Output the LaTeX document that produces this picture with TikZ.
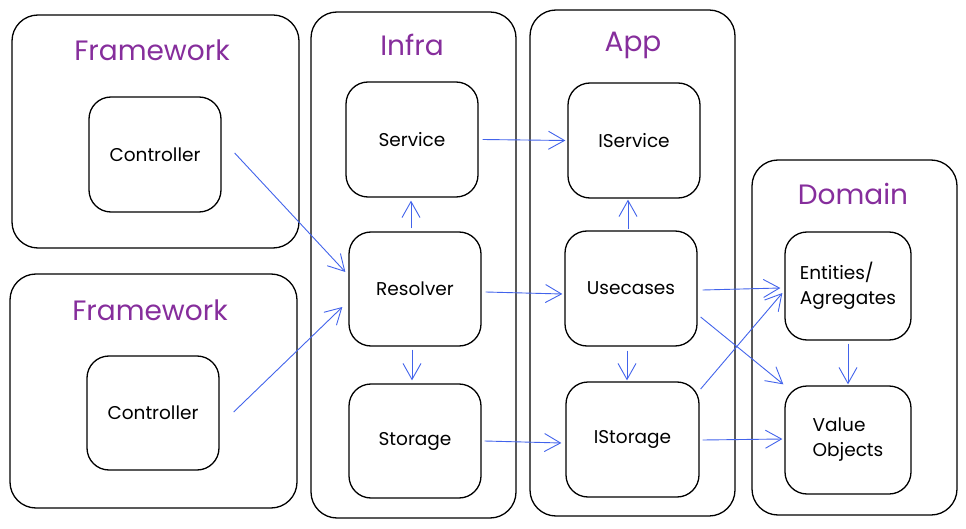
\documentclass[tikz,border=0pt]{standalone}
\usepackage{fontspec}
\setmainfont{Poppins}
\usetikzlibrary{arrows.meta}
\definecolor{titlepurple}{HTML}{862E9C}
\definecolor{arrowblue}{HTML}{4263EB}
\tikzset{
  frame/.style={draw=black, line width=1.3pt, rounded corners=26pt, inner sep=0pt},
  compbox/.style={draw=black, line width=1.3pt, rounded corners=22pt, inner sep=0pt, font=\fontsize{18.5}{25}\selectfont},
  title/.style={text=titlepurple, font=\fontsize{28}{32}\selectfont},
  arr/.style={draw=arrowblue, line width=0.9pt, -{Straight Barb[length=16pt,width=18pt,line width=0.9pt]}}
}
\begin{document}
\begin{tikzpicture}[x=1pt,y=-1pt]
\useasboundingbox (0,0) rectangle (966,529);
% frames
\node[frame, minimum width=287pt, minimum height=233pt] (fw1) at (155.5,131.5) {};
\node[frame, minimum width=287pt, minimum height=234pt] (fw2) at (153.5,391) {};
\node[frame, minimum width=205pt, minimum height=506pt] (infra) at (413.5,265) {};
\node[frame, minimum width=205pt, minimum height=506pt] (app) at (632.5,263) {};
\node[frame, minimum width=205pt, minimum height=355pt] (domain) at (854.5,337.5) {};
% titles
\node[title] (fw1t) at (152,50) {Framework};
\node[title] (fw2t) at (150,310) {Framework};
\node[title] (infrat) at (412,45) {Infra};
\node[title] (appt) at (633,45) {App};
\node[title] (domaint) at (853,194) {Domain};
% components
\node[compbox, minimum width=132pt, minimum height=115pt] (ctrl1) at (155,154.5) {Controller};
\node[compbox, minimum width=132pt, minimum height=114pt] (ctrl2) at (153,413) {Controller};
\node[compbox, minimum width=132pt, minimum height=115pt] (service) at (412,139.5) {Service};
\node[compbox, minimum width=132pt, minimum height=114pt] (res) at (415,289) {Resolver};
\node[compbox, minimum width=132pt, minimum height=114pt] (storage) at (415,441) {Storage};
\node[compbox, minimum width=132pt, minimum height=115pt] (iservice) at (634,140.5) {IService};
\node[compbox, minimum width=132pt, minimum height=115pt] (usecases) at (631,288.5) {Usecases};
\node[compbox, minimum width=133pt, minimum height=115pt] (istorage) at (632.5,439.5) {IStorage};
\node[compbox, minimum width=126pt, minimum height=108pt, align=left] (entities) at (848,286) {Entities/\\Agregates};
\node[compbox, minimum width=126pt, minimum height=108pt, align=left] (value) at (848,440) {Value\\Objects};
% arrows
\draw[arr] ([shift={(13,-1.5)}]ctrl1.east) -- ([shift={(-3,-17)}]res.west);
\draw[arr] ([shift={(14,-1)}]ctrl2.east) -- ([shift={(-6,18)}]res.west);
\draw[arr] ([shift={(-4,-3)}]res.north) -- ([shift={(-1,3)}]service.south);
\draw[arr] ([shift={(4,3)}]res.east) -- ([shift={(-2,5.5)}]usecases.west);
\draw[arr] ([shift={(-3,3)}]res.south) -- ([shift={(-3,-3)}]storage.north);
\draw[arr] ([shift={(4,0)}]service.east) -- ([shift={(-2,0)}]iservice.west);
\draw[arr] ([shift={(3,0)}]storage.east) -- ([shift={(-4,3.5)}]istorage.west);
\draw[arr] ([shift={(-3,-1)}]usecases.north) -- ([shift={(-6,1)}]iservice.south);
\draw[arr] ([shift={(-4,4)}]usecases.south) -- ([shift={(-5.5,-1)}]istorage.north);
\draw[arr] ([shift={(5,1.5)}]usecases.east) -- ([shift={(-4,2)}]entities.west);
\draw[arr] ([shift={(3,28.5)}]usecases.east) -- ([shift={(-1,-1)}]value.north west);
\draw[arr] ([shift={(1,-50.5)}]istorage.east) -- ([shift={(-2,7)}]entities.west);
\draw[arr] ([shift={(3,0.5)}]istorage.east) -- ([shift={(-2,-1)}]value.west);
\draw[arr] ([shift={(0,3)}]entities.south) -- ([shift={(0,-1)}]value.north);
\end{tikzpicture}
\end{document}
